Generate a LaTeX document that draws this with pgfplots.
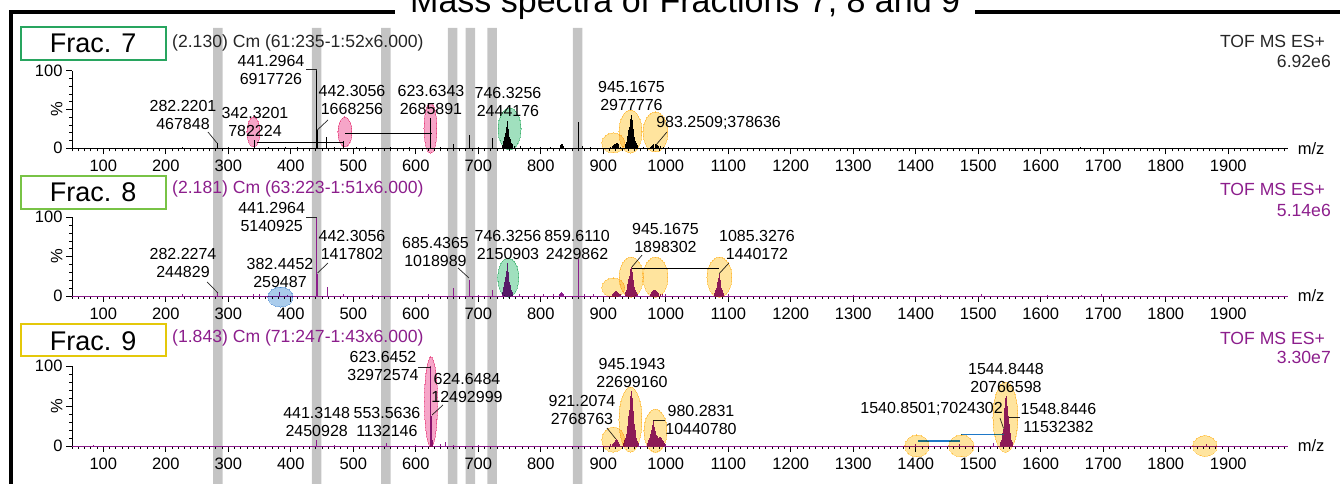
\documentclass[border=0pt]{standalone}
\usepackage{pgfplots}
\usepackage{pgfplotstable}
\pgfplotsset{compat=1.18}
\usepackage{fontspec}
\setmainfont{Liberation Sans}
\definecolor{pur}{RGB}{140,30,140}
\definecolor{bandgray}{RGB}{196,196,196}
\definecolor{hlpink}{RGB}{246,165,200}
\definecolor{hlgreen}{RGB}{160,224,190}
\definecolor{hlyellow}{RGB}{255,228,158}
\definecolor{hlblue}{RGB}{170,204,236}
\definecolor{fsev}{RGB}{40,165,95}
\definecolor{feig}{RGB}{120,195,70}
\definecolor{fnin}{RGB}{228,200,10}
\definecolor{bblue}{RGB}{30,120,200}

% Frac. 7 spectrum (m/z, % of 6.92e6)
\pgfplotstableread{
mz y
227 2
250 1
282.2 6.8
300 1.5
342.3 11.3
365 1.5
391 2
410 1.5
441.3 100
442.3 24.1
456.5 14
470 2
485 10
505 2
520 1.5
560 1.5
590 1.5
623.6 38.8
640 2
660 6
686 17
700 2
722 13
738 4
740 7
741 10
742.5 15
744 20
745 27
746.3 35.3
747 30
748 25
749 20
750 15
751 12
752 10
753.5 7
755 5
758 3
768 3
783 2
799 2
815 2
832 4
833 5
834 6
835 4
836 3
859.6 34
867 3
880 2
912 2
914 3
916 4
918 5
920 6
921 6.5
922.5 7
924 5
925 4
928 2
935 5
936.5 8
938 12
939 16
940 20
941 24
942 28
943 33
944 38
945.2 43
946 36
947 30
948 25
949 20
950 15
951 10
952.5 7
954 4
965 2
975 2
977 3
979 4
981 5
983.3 5.5
985 5
987 4
989 3
992 3
996 2
1005 1.5
1663 1.5
}\dataA

% Frac. 8 spectrum (m/z, % of 5.14e6)
\pgfplotstableread{
mz y
227 2
282.2 4.8
340 3
350 2
382.4 5
395 1.5
441.3 100
442.3 27.6
458 11.8
484 3
530 1.5
620 2
660 10
685.4 19.8
700 1.5
722 7.6
738 5
740 8
741 12
742.5 18
744 24
745 32
746.3 41.8
747 36
748 30
749 24
750 18
751 14
752 10
753.5 7
755 5
766 2.5
790 3
805 2
820 2
830 3
832 4
833 5
834 4
836 3
859.6 47.3
870 3
885 2.5
915 3
916.5 4
918 5
919.5 6
921 6.5
922.5 5
924 4
926 3
928 2
935 5
936.5 8
938 12
939 15
940 18
941 22
942 26
943 28
943.5 31
944 34
945.2 36.9
946 31
947 26
948 20
949 15
950 11
951 8
952.5 5
954 3
975 3
977 4.5
979 6
980.5 7
982 8
983.5 7
985 6
987 5
989 4
991 3
994 2.5
1000 2
1078 4
1080 7
1081 10
1082 14
1083 18
1084 23
1085.3 28
1086 24
1087 20
1088 15
1089 10
1090.5 7
1092 4
1100 2
1300 1.5
1440 1.5
1505 2
1610 1.5
1665 1.5
1697 2
}\dataB

% Frac. 9 spectrum (m/z, % of 3.30e7)
\pgfplotstableread{
mz y
85 0.8
441.3 7.4
470 1
553.6 3.4
600 1
623.6 100
624.6 37.9
626 8
640 2
647 5
660 1.5
700 1.5
912 2
914 3
916 4
917.5 5.5
919 7
920 8
921.2 8.4
922 7
923 6
924.5 4.5
926 3
933 4
934.5 7
936 10
937 15
938 20
939 25
940 30
941 37
942 45
943 52
943.5 58
944 63
945.2 68.8
946 60
947 52
948 44
949 35
950 27
951 20
952 14
953 10
954.5 6
956 4
970 4
972 7
974 10
975.5 15
977 20
978.5 26
980.3 31.6
981 28
982 24
983.5 19
985 14
986.5 12
988 10
989.5 11
991 11
992 10.5
993 10
994.5 8
996 6
998 4
1000 3
1400 2
1470 2
1525 4
1536 5
1537 8
1538 12
1539 16
1540.9 21.3
1541.5 30
1542 40
1542.5 47
1543 55
1544 60
1544.8 62.9
1545.5 57
1546 50
1546.5 46
1547 42
1548 38
1548.8 35
1549.5 28
1550 22
1551 16
1552 12
1553 8
1554 5
1865 2
}\dataC

\newcommand\hlell[5]{\addplot[only marks, mark=*, mark size=1pt, blend mode=multiply,
  mark options={draw=#1, line width=0pt, fill=#1, xscale=#4, yscale=#5}] coordinates {(#2,#3)};}

\tikzset{lbl/.style={align=center, inner sep=0pt, font=\fontsize{16}{18}\selectfont}}

\pgfplotsset{
  spec/.style={
    scale only axis, width=1215.6pt,
    xmin=50, xmax=1995, ymin=0, ymax=100,
    axis lines=left, axis line style={-, line width=0.8pt},
    clip=false,
    xtick={0,100,...,2000}, minor x tick num=9,
    ytick={0,50,100}, yticklabels={0,{\rotatebox{90}{\%}},100},
    minor ytick={10,20,30,40,60,70,80,90},
    tick align=outside, major tick length=6pt, minor tick length=3pt,
    tick style={black, line width=0.7pt},
    ticklabel style={font=\fontsize{16.5}{18}\selectfont},
    xticklabel style={yshift=-2pt},
    /pgf/number format/1000 sep={},
    /pgf/number format/assume math mode=true,
    anchor=south west,
  },
  stk/.style={ycomb, no marks, line width=0.9pt},
  ld/.style={no marks, black!85, line width=0.7pt},
}

\begin{document}
\begin{tikzpicture}
\useasboundingbox (0,0) rectangle (1340pt,484pt);

% grey bands across all panels
\begin{axis}[scale only axis, width=1215.6pt, height=456pt, at={(72.05pt,0pt)}, anchor=south west,
  xmin=50, xmax=1995, ymin=0, ymax=1, hide axis, clip=false]
\addplot[ybar, bar width=9.5pt, fill=bandgray, draw=none] coordinates
  {(283.5,1) (441.2,1) (552,1) (659,1) (687.5,1) (722,1) (859,1)};
\end{axis}

% frame and title
\draw[line width=4pt, line join=miter] (10.5pt,-10pt) -- (10.5pt,472pt) -- (395pt,472pt);
\draw[line width=4pt] (975pt,472pt) -- (1360pt,472pt);
\node[anchor=base west, inner sep=0pt, font=\fontsize{34}{40}\selectfont] at (410pt,471pt) {Mass spectra of Fractions 7, 8 and 9};

% ---------------- Panel 1: Frac. 7 ----------------
\begin{axis}[spec, at={(72.05pt,335.7pt)}, height=77.6pt]
\addplot[black, line width=0.8pt, no marks] coordinates {(50,0) (1995,0)};
\addplot[stk, black] table[x=mz, y=y] {\dataA};
\addplot[ld] coordinates {(267.5,21) (281.9,6.8)};
\addplot[ld] coordinates {(425,102.2) (441.2,102.2) (441.2,100)};
\addplot[ld] coordinates {(459.5,36.5) (442.5,23.6)};
\addplot[ld] coordinates {(1001.9,21) (984.3,4.3)};
\addplot[no marks, black, line width=1.3pt] coordinates {(346,7.2) (484,7.2)};
\addplot[no marks, black, line width=1.3pt] coordinates {(487,19.3) (626.4,19.3)};
\node[lbl] at (axis cs:227.5,42.8) {282.2201\\467848};
\node[lbl] at (axis cs:342.7,34.2) {342.3201\\782224};
\node[lbl] at (axis cs:368.3,101.2) {441.2964\\6917726};
\node[lbl] at (axis cs:497.9,62.2) {442.3056\\1668256};
\node[lbl] at (axis cs:624.3,62.2) {623.6343\\2685891};
\node[lbl] at (axis cs:747.5,59.5) {746.3256\\2444176};
\node[lbl] at (axis cs:945.1,67.4) {945.1675\\2977776};
\node[lbl] at (axis cs:1084.5,32.6) {983.2509;378636};
\node[anchor=west, inner sep=0pt, font=\fontsize{16.5}{18}\selectfont] at (axis cs:1995,0) [xshift=10pt] {m/z};
\hlell{hlpink}{340.3}{21}{6.5}{15}
\hlell{hlpink}{486.7}{21}{7}{15}
\hlell{hlpink}{623.5}{26}{6.5}{25}
\hlell{hlgreen}{750}{25}{11.5}{21}
\hlell{hlyellow}{916}{7}{11.5}{10}
\hlell{hlyellow}{943.5}{21.6}{11.5}{21.5}
\hlell{hlyellow}{983.5}{21}{12.5}{20}
\end{axis}

% ---------------- Panel 2: Frac. 8 ----------------
\begin{axis}[spec, at={(72.05pt,188pt)}, height=78.7pt]
\addplot[pur, line width=0.8pt, no marks] coordinates {(50,0) (1995,0)};
\addplot[stk, pur] table[x=mz, y=y] {\dataB};
\addplot[ld] coordinates {(266,17.8) (283.5,3.8)};
\addplot[ld] coordinates {(425,100.4) (441.2,100.4) (441.2,100)};
\addplot[ld] coordinates {(459.5,41.9) (442.7,29.2)};
\addplot[ld] coordinates {(667.5,35.6) (685.1,22.9)};
\addplot[ld] coordinates {(962,52) (945.9,37)};
\addplot[ld] coordinates {(1101,41.9) (1085.5,28.5)};
\addplot[no marks, black, line width=1.3pt] coordinates {(945.5,35.2) (1085,35.2)};
\node[lbl] at (axis cs:227.5,41.6) {282.2274\\244829};
\node[lbl] at (axis cs:382.7,28.9) {382.4452\\259487};
\node[lbl] at (axis cs:369.4,100.4) {441.2964\\5140925};
\node[lbl] at (axis cs:497.9,64.8) {442.3056\\1417802};
\node[lbl] at (axis cs:631.5,56.5) {685.4365\\1018989};
\node[lbl] at (axis cs:747.5,65.4) {746.3256\\2150903};
\node[lbl] at (axis cs:858,65.4) {859.6110\\2429862};
\node[lbl] at (axis cs:999.5,73.7) {945.1675\\1898302};
\node[lbl] at (axis cs:1145.9,64.8) {1085.3276\\1440172};
\node[anchor=west, inner sep=0pt, font=\fontsize{16.5}{18}\selectfont] at (axis cs:1995,0) [xshift=10pt] {m/z};
\hlell{hlblue}{383.5}{-1.3}{12.5}{10}
\hlell{hlgreen}{748}{23.5}{10.5}{19.5}
\hlell{hlyellow}{916}{10.8}{11.5}{9.5}
\hlell{hlyellow}{944.5}{24}{12}{20}
\hlell{hlyellow}{983.5}{24}{12.5}{20}
\hlell{hlyellow}{1085.9}{24}{12.5}{20}
\end{axis}

% ---------------- Panel 3: Frac. 9 ----------------
\begin{axis}[spec, at={(72.05pt,38pt)}, height=80pt]
\addplot[pur, line width=0.8pt, no marks] coordinates {(50,0) (1995,0)};
\addplot[stk, pur] table[x=mz, y=y] {\dataC};
\addplot[ld] coordinates {(603.5,98.75) (623.6,98.75)};
\addplot[ld] coordinates {(643.5,51.25) (626,38.75)};
\addplot[ld] coordinates {(905.9,22.5) (920,8.8)};
\addplot[ld] coordinates {(999,32.5) (980.3,32.5)};
\addplot[ld] coordinates {(1534.7,35) (1540.5,22)};
\addplot[ld] coordinates {(1566.7,35.4) (1549,35.4)};
\addplot[no marks, bblue, line width=1.3pt] coordinates {(1404,6.3) (1471,6.3)};
\addplot[no marks, bblue, line width=1.3pt] coordinates {(1472,14.6) (1541,14.6)};
\node[lbl] at (axis cs:441.4,30.3) {441.3148\\2450928};
\node[lbl] at (axis cs:553.9,30.3) {553.5636\\1132146};
\node[lbl] at (axis cs:547.5,99.6) {623.6452\\32972574};
\node[lbl] at (axis cs:681.9,72.2) {624.6484\\12492999};
\node[lbl] at (axis cs:865.9,44.6) {921.2074\\2768763};
\node[lbl] at (axis cs:945.9,91.25) {945.1943\\22699160};
\node[lbl] at (axis cs:1056.3,32.5) {980.2831\\10440780};
\node[lbl, anchor=east] at (axis cs:1539.5,46.25) {1540.8501;7024302};
\node[lbl] at (axis cs:1544.3,85) {1544.8448\\20766598};
\node[lbl] at (axis cs:1628.3,35) {1548.8446\\11532382};
\node[anchor=west, inner sep=0pt, font=\fontsize{16.5}{18}\selectfont] at (axis cs:1995,0) [xshift=10pt] {m/z};
\hlell{hlpink}{624.3}{55}{6.5}{45}
\hlell{hlyellow}{916}{8}{11.5}{12.5}
\hlell{hlyellow}{943.5}{33}{11.5}{32.5}
\hlell{hlyellow}{983.5}{19}{11.5}{21.5}
\hlell{hlyellow}{1401.9}{0}{12}{11}
\hlell{hlyellow}{1473}{0}{12.5}{11}
\hlell{hlyellow}{1543.5}{36}{12.5}{35}
\hlell{hlyellow}{1862.7}{0}{12}{10.5}
\end{axis}

% Fraction boxes and headers
\draw[fsev, line width=1.8pt, fill=white] (20.7pt,424pt) rectangle (165.7pt,457.3pt);
\node[font=\fontsize{27}{30}\selectfont] at (93.2pt,440.3pt) {Frac. 7};
\draw[feig, line width=1.8pt, fill=white] (20.7pt,275pt) rectangle (165.7pt,308pt);
\node[font=\fontsize{27}{30}\selectfont] at (93.2pt,292pt) {Frac. 8};
\draw[fnin, line width=1.8pt, fill=white] (20.7pt,128.3pt) rectangle (165.7pt,160pt);
\node[font=\fontsize{27}{30}\selectfont] at (93.2pt,143pt) {Frac. 9};

\begin{scope}[every node/.style={inner sep=0pt, font=\fontsize{17.6}{20}\selectfont}]
\node[anchor=west, black!85] at (172pt,441.5pt) {(2.130) Cm (61:235-1:52x6.000)};
\node[anchor=west, pur] at (172pt,295pt) {(2.181) Cm (63:223-1:51x6.000)};
\node[anchor=west, pur] at (172pt,146pt) {(1.843) Cm (71:247-1:43x6.000)};
\node[anchor=east, black!85] at (1325pt,442.5pt) {TOF MS ES+};
\node[anchor=east, black!85] at (1331pt,423pt) {6.92e6};
\node[anchor=east, pur] at (1325pt,295pt) {TOF MS ES+};
\node[anchor=east, pur] at (1331pt,274pt) {5.14e6};
\node[anchor=east, pur] at (1325pt,146pt) {TOF MS ES+};
\node[anchor=east, pur] at (1331pt,126.5pt) {3.30e7};
\end{scope}
\end{tikzpicture}
\end{document}
